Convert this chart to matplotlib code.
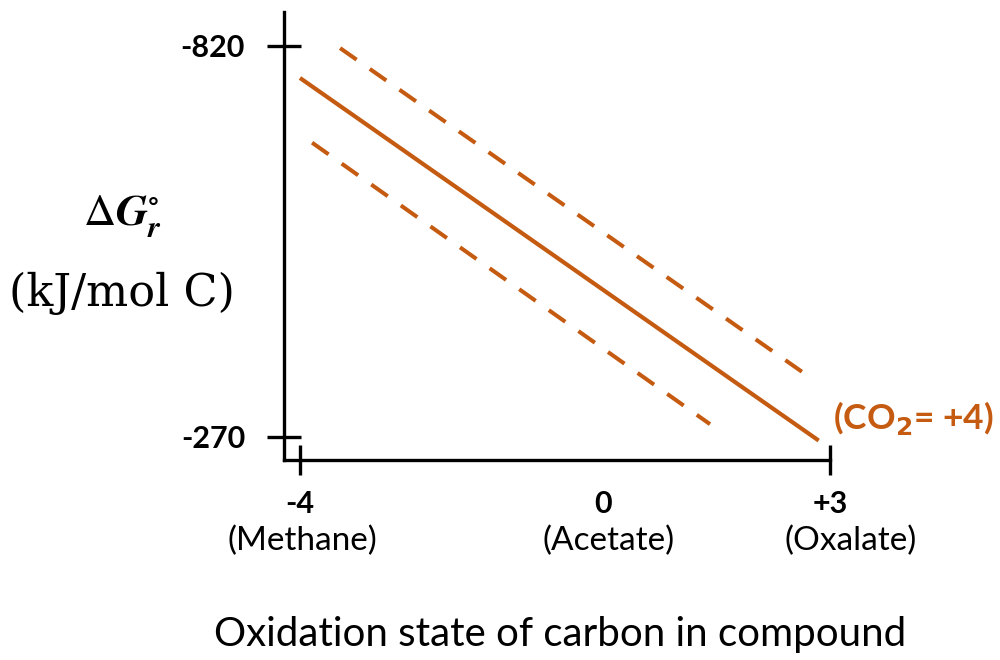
import matplotlib
matplotlib.use("Agg")
import matplotlib.pyplot as plt

# Oxidation state of carbon and the reference compounds
ox_state = [-4, 0, 3]
compounds = ["(Methane)", "(Acetate)", "(Oxalate)"]

# Gibbs energy axis ticks (kJ/mol C)
dg_ticks = [-820, -270]

# Central trend and the two dashed bounds (oxidation state, ΔG)
trend_x = [-4.0, 2.85]
trend_y = [-775, -265]
upper_x = [-3.47, 2.80]
upper_y = [-817, -349]
lower_x = [-3.84, 1.415]
lower_y = [-684, -288]

ORANGE = "#C55A11"
SANS = "Lato"
tick_font = dict(family=SANS, fontweight="bold", fontsize=22)

fig = plt.figure(figsize=(10, 6.6), dpi=100)
ax = fig.add_axes([0.284, 0.30303, 0.546, 0.67879])

ax.plot(trend_x, trend_y, color=ORANGE, lw=3.0, solid_capstyle="butt")
for xs, ys in ((upper_x, upper_y), (lower_x, lower_y)):
    ax.plot(xs, ys, color=ORANGE, lw=2.9, dashes=(5, 4), dash_capstyle="butt")

ax.set_xlim(-4.211, 3.0)
ax.set_ylim(-237.6, -867.8)

for side in ("top", "right"):
    ax.spines[side].set_visible(False)
for side in ("left", "bottom"):
    ax.spines[side].set_linewidth(2.4)

ax.tick_params(axis="y", direction="inout", length=24, width=2.4, pad=16)
ax.tick_params(axis="x", direction="inout", length=21, width=2.4, pad=11)
ax.set_yticks(dg_ticks, labels=[str(v) for v in dg_ticks], **tick_font)
ax.set_xticks(ox_state, labels=["0" if v == 0 else f"{v:+d}" for v in ox_state],
              **tick_font)
# the middle state is labelled only, without a tick mark
ax.xaxis.get_major_ticks()[1].tick1line.set_visible(False)

# compound names under the oxidation-state labels
for xv, name, dx in zip(ox_state, compounds, [2, 4, 15]):
    ax.annotate(name, xy=(xv, 0), xycoords=("data", "axes fraction"),
                xytext=(dx, -58.5), textcoords="offset points",
                ha="center", va="center", fontsize=24, family=SANS,
                annotation_clip=False)

ax.text(3.04, -297, r"(CO$_{\mathbf{2}}$= +4)", color=ORANGE, fontsize=25.5,
        family=SANS, fontweight="bold", ha="left", va="center", clip_on=False)

fig.text(0.123, 0.673, r"$\Delta\boldsymbol{G}_{\boldsymbol{r}}^{\circ}$",
         math_fontfamily="stix", fontsize=32, ha="center", va="center")
fig.text(0.122, 0.556, "(kJ/mol C)", family="DejaVu Serif", fontsize=32,
         ha="center", va="center")
fig.text(0.56, 0.038, "Oxidation state of carbon in compound", family=SANS,
         fontsize=29, ha="center", va="center")

fig.savefig("out.png", dpi=100, facecolor="white")
